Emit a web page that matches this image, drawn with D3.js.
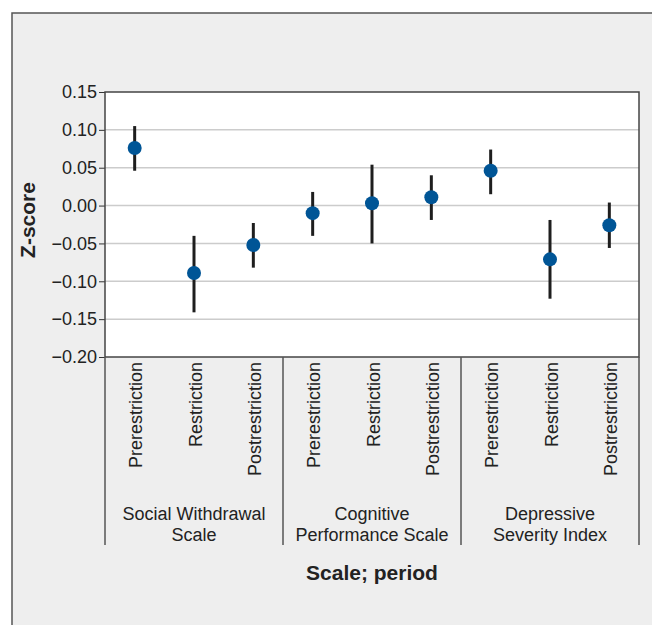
<!DOCTYPE html>
<html>
<head>
<meta charset="utf-8">
<script src="https://cdn.jsdelivr.net/npm/d3@7"></script>
<style>
  body { margin: 0; background: #fff; }
  svg { display: block; font-family: "Liberation Sans", Arial, sans-serif; }
  text { fill: #222; }
</style>
</head>
<body>
<svg width="652" height="625"></svg>
<script>
// the data
var scales = ["Social Withdrawal Scale", "Cognitive Performance Scale", "Depressive Severity Index"];
var scaleLines = [["Social Withdrawal", "Scale"], ["Cognitive", "Performance Scale"], ["Depressive", "Severity Index"]];
var periods = ["Prerestriction", "Restriction", "Postrestriction"];
var means = [0.076, -0.089, -0.052, -0.010, 0.003, 0.011, 0.046, -0.071, -0.026];
var lower = [0.046, -0.141, -0.082, -0.040, -0.050, -0.019, 0.015, -0.123, -0.056];
var upper = [0.105, -0.040, -0.023, 0.018, 0.054, 0.040, 0.074, -0.019, 0.004];
var yTicks = [0.15, 0.10, 0.05, 0.00, -0.05, -0.10, -0.15, -0.20];

var svg = d3.select("svg");

// points: one per scale/period pair
var points = [];
scales.forEach(function(s, i) {
    periods.forEach(function(p, j) {
        var k = i * periods.length + j;
        points.push({scale: s, period: p, key: k, mean: means[k], lo: lower[k], hi: upper[k]});
    });
});

// plot box (window.top is read-only, so prefix these)
var plotL = 105, plotR = 639, plotT = 92, plotB = 357;

var x = d3.scaleBand()
    .domain(points.map(function(d) { return d.key; }))
    .range([plotL, plotR]);

var xGroup = d3.scaleBand()
    .domain(scales)
    .range([plotL, plotR]);

var y = d3.scaleLinear()
    .domain([-0.20, 0.15])
    .range([plotB, plotT]);

// grey panel, cut by the right and bottom edges
svg.append("rect")
    .attr("x", 12).attr("y", 13)
    .attr("width", 700).attr("height", 700)
    .attr("fill", "#eeeeee")
    .attr("stroke", "#555")
    .attr("stroke-width", 1.5);

// plot area
svg.append("rect")
    .attr("x", plotL).attr("y", plotT)
    .attr("width", plotR - plotL).attr("height", plotB - plotT)
    .attr("fill", "#fff");

// grid lines
svg.append("g")
    .selectAll("line")
    .data(yTicks.filter(function(t) { return t < 0.15 && t > -0.20; }))
    .enter().append("line")
    .attr("x1", plotL).attr("x2", plotR)
    .attr("y1", function(d) { return y(d); })
    .attr("y2", function(d) { return y(d); })
    .attr("stroke", "#cccccc")
    .attr("stroke-width", 1.5);

// y axis
var fmt = d3.format(".2f");
var yAxis = svg.append("g")
    .attr("transform", "translate(" + plotL + ",0)")
    .call(d3.axisLeft(y)
        .tickValues(yTicks)
        .tickSize(6)
        .tickPadding(2)
        .tickFormat(function(d) { return fmt(Math.abs(d) < 1e-9 ? 0 : d).replace("-", "\u2212"); }));
yAxis.select(".domain").remove();
yAxis.selectAll(".tick line").attr("stroke", "#333").attr("stroke-width", 1);
yAxis.selectAll(".tick text")
    .attr("font-size", 18)
    .attr("font-family", "Liberation Sans, Arial, sans-serif")
    .attr("fill", "#222");

// plot border
svg.append("rect")
    .attr("x", plotL).attr("y", plotT)
    .attr("width", plotR - plotL).attr("height", plotB - plotT)
    .attr("fill", "none")
    .attr("stroke", "#444")
    .attr("stroke-width", 1.5);

// error bars
svg.append("g")
    .selectAll("line")
    .data(points)
    .enter().append("line")
    .attr("x1", function(d) { return x(d.key) + x.bandwidth() / 2; })
    .attr("x2", function(d) { return x(d.key) + x.bandwidth() / 2; })
    .attr("y1", function(d) { return y(d.hi); })
    .attr("y2", function(d) { return y(d.lo); })
    .attr("stroke", "#1e1e1e")
    .attr("stroke-width", 3);

// means
svg.append("g")
    .selectAll("circle")
    .data(points)
    .enter().append("circle")
    .attr("cx", function(d) { return x(d.key) + x.bandwidth() / 2; })
    .attr("cy", function(d) { return y(d.mean); })
    .attr("r", 7)
    .attr("fill", "#005596");

// period labels, rotated
svg.append("g")
    .selectAll("text")
    .data(points)
    .enter().append("text")
    .attr("transform", function(d) {
        return "translate(" + (x(d.key) + x.bandwidth() / 2 + 1.5) + "," + (plotB + 5) + ") rotate(-90)";
    })
    .attr("text-anchor", "end")
    .attr("dy", "0.35em")
    .attr("font-size", 18)
    .text(function(d) { return d.period; });

// group separators
svg.append("g")
    .selectAll("line")
    .data(scales.map(function(s) { return xGroup(s); }).concat([plotR]))
    .enter().append("line")
    .attr("x1", function(d) { return d; })
    .attr("x2", function(d) { return d; })
    .attr("y1", plotB)
    .attr("y2", 545)
    .attr("stroke", "#555")
    .attr("stroke-width", 1.5);

// group labels
var groupText = svg.append("g")
    .selectAll("text")
    .data(scales)
    .enter().append("text")
    .attr("x", function(d) { return xGroup(d) + xGroup.bandwidth() / 2; })
    .attr("y", 520)
    .attr("text-anchor", "middle")
    .attr("font-size", 18);
groupText.selectAll("tspan")
    .data(function(d, i) { return scaleLines[i]; })
    .enter().append("tspan")
    .attr("x", function() { return this.parentNode.getAttribute("x"); })
    .attr("dy", function(d, i) { return i === 0 ? 0 : 21; })
    .text(function(d) { return d; });

// axis titles
svg.append("text")
    .attr("x", (plotL + plotR) / 2)
    .attr("y", 580)
    .attr("text-anchor", "middle")
    .attr("font-size", 21)
    .attr("font-weight", "bold")
    .text("Scale; period");

svg.append("text")
    .attr("transform", "translate(35,220) rotate(-90)")
    .attr("text-anchor", "middle")
    .attr("font-size", 21)
    .attr("font-weight", "bold")
    .text("Z-score");
</script>
</body>
</html>
